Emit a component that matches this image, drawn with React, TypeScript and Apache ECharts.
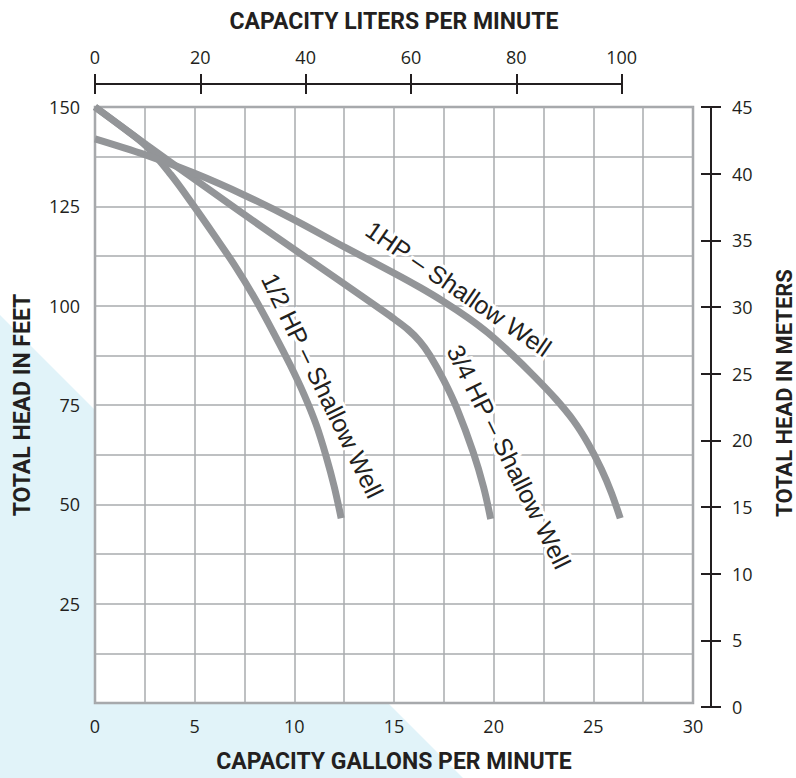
import React, { useEffect, useRef } from "react";
import * as echarts from "echarts";

// ---- axis ranges & tick steps ----
const gpmRange = [0, 30];
const gpmGridStep = 2.5;
const gpmLabelStep = 5;
const feetRange = [0, 150];
const feetGridStep = 12.5;
const feetLabelStep = 25;
const litersRange = [0, 100];
const litersStep = 20;
const metersRange = [0, 45];
const metersStep = 5;
const LPM_PER_GPM = 3.78541;

// ---- titles ----
const titleTop = "CAPACITY LITERS PER MINUTE";
const titleBottom = "CAPACITY GALLONS PER MINUTE";
const titleLeft = "TOTAL HEAD IN FEET";
const titleRight = "TOTAL HEAD IN METERS";

// ---- series names ----
const seriesNames = ["1/2 HP – Shallow Well", "3/4 HP – Shallow Well", "1HP – Shallow Well"];

// ---- curves: [gpm, feet] ----
const halfHp: [number, number][] = [
  [0, 150], [1.3, 145.2], [2.6, 140], [3.8, 133], [4.9, 125.5], [6, 117.6], [7, 110.2],
  [8, 102], [9, 92.8], [9.8, 85], [10.5, 77.5], [11.1, 70], [11.6, 62], [12, 54.5], [12.35, 46.5],
];
const threeQuarterHp: [number, number][] = [
  [0, 150], [2.6, 140.4], [5.5, 130], [9, 117.6], [12.3, 106.2], [14.5, 98.5],
  [15, 96.7], [15.7, 94], [16.3, 91], [16.8, 87.5], [17.5, 81.2], [18.15, 74.2],
  [18.98, 63], [19.5, 54.2], [19.85, 46.3],
];
const oneHp: [number, number][] = [
  [0, 142], [2.5, 138], [5, 133.3], [7.5, 127.8], [10, 121.6], [12.5, 114.8], [15, 108.2],
  [16.3, 104.6], [17.5, 101], [18.7, 97], [19.7, 93.2], [20.9, 87.8], [22, 82.4],
  [23.1, 76.6], [24, 71.1], [24.75, 65.2], [25.4, 58.9], [25.9, 53], [26.35, 46.5],
];
const curves = [halfHp, threeQuarterHp, oneHp];

// ---- curve annotations: anchor in [gpm, feet], angle in degrees (clockwise) ----
const labelGpm = [11.41, 20.77, 18.24];
const labelFeet = [79.9, 62.0, 104.3];
const labelAngle = [64, 63.5, 34.5];

const INK = "#231f20";
const CURVE = "#939598";
const GRIDLINE = "#a9abae";
const TICK_FONT = "'Open Sans', 'Noto Sans', sans-serif";
const TITLE_FONT = "Roboto, 'Noto Sans', sans-serif";
const LABEL_FONT = "'Liberation Sans', Arial, sans-serif";

const GL = 95, GT = 107, GW = 598, GH = 600;

export default function App() {
  const ref = useRef<HTMLDivElement>(null);

  useEffect(() => {
    if (!ref.current) return;
    const chart = echarts.init(ref.current, null, { renderer: "svg" });

    const tickLabel = { color: INK, fontFamily: TICK_FONT, fontSize: 18 };
    const blackLine = { color: INK, width: 2 };

    const option: any = {
      animation: false,
      backgroundColor: "#fff",
      grid: [
        { left: GL, top: GT, width: GW, height: GH, show: true, backgroundColor: "#fff", borderColor: "#a2a4a7", borderWidth: 2.5 },
        { left: GL, top: 84, width: (GW * litersRange[1]) / (gpmRange[1] * LPM_PER_GPM), height: 0 },
        { left: 711, top: GT, width: 0, height: GH },
      ],
      xAxis: [
        {
          gridIndex: 0, type: "value", position: "bottom",
          min: gpmRange[0], max: gpmRange[1], interval: gpmGridStep,
          axisLine: { show: false }, axisTick: { show: false },
          splitLine: { show: true, lineStyle: { color: GRIDLINE, width: 1.5 } },
          axisLabel: { ...tickLabel, margin: 14, formatter: (v: number) => (v % gpmLabelStep === 0 ? String(v) : "") },
          name: titleBottom, nameLocation: "middle", nameGap: 47,
          nameTextStyle: { fontFamily: TITLE_FONT, fontWeight: "bold", fontSize: 23, color: INK },
        },
        {
          gridIndex: 1, type: "value", position: "top",
          min: litersRange[0], max: litersRange[1], interval: litersStep,
          axisLine: { show: true, lineStyle: blackLine },
          axisTick: { show: true, length: 10, lineStyle: blackLine },
          splitLine: { show: false },
          axisLabel: { ...tickLabel, margin: 18 },
        },
        {
          gridIndex: 1, type: "value", position: "bottom",
          min: litersRange[0], max: litersRange[1], interval: litersStep,
          axisLine: { show: false },
          axisTick: { show: true, length: 10, lineStyle: blackLine },
          splitLine: { show: false },
          axisLabel: { show: false },
        },
        { gridIndex: 2, type: "value", show: false, min: 0, max: 1 },
      ],
      yAxis: [
        {
          gridIndex: 0, type: "value", position: "left",
          min: feetRange[0], max: feetRange[1], interval: feetGridStep,
          axisLine: { show: false }, axisTick: { show: false },
          splitLine: { show: true, lineStyle: { color: GRIDLINE, width: 1.5 } },
          axisLabel: { ...tickLabel, margin: 15, formatter: (v: number) => (v % feetLabelStep === 0 && v !== 0 ? String(v) : "") },
          name: titleLeft, nameLocation: "middle", nameGap: 61, nameRotate: 90,
          nameTextStyle: { fontFamily: TITLE_FONT, fontWeight: "bold", fontSize: 23, color: INK },
        },
        { gridIndex: 1, type: "value", show: false, min: 0, max: 1 },
        {
          gridIndex: 2, type: "value", position: "right",
          min: metersRange[0], max: metersRange[1], interval: metersStep,
          axisLine: { show: true, lineStyle: blackLine },
          axisTick: { show: true, length: 10, lineStyle: blackLine },
          splitLine: { show: false },
          axisLabel: { ...tickLabel, margin: 21 },
        },
        {
          gridIndex: 2, type: "value", position: "left",
          min: metersRange[0], max: metersRange[1], interval: metersStep,
          axisLine: { show: false },
          axisTick: { show: true, length: 10, lineStyle: blackLine },
          splitLine: { show: false },
          axisLabel: { show: false },
        },
      ],
      series: curves.map((data, i) => ({
        type: "line",
        name: seriesNames[i],
        xAxisIndex: 0,
        yAxisIndex: 0,
        data,
        smooth: 0.35,
        symbol: "none",
        showSymbol: false,
        clip: false,
        lineStyle: { color: CURVE, width: 7, cap: "butt" },
        z: 3,
      })),
    };

    chart.setOption(option);

    const labels = seriesNames.map((name, i) => {
      const p = chart.convertToPixel({ seriesIndex: i }, [labelGpm[i], labelFeet[i]]) as number[];
      return {
        type: "text",
        id: "lbl" + i,
        x: p[0],
        y: p[1],
        rotation: (-labelAngle[i] * Math.PI) / 180,
        z: 10,
        style: {
          text: name,
          fill: INK,
          font: `25px ${LABEL_FONT}`,
          align: "center",
          verticalAlign: "middle",
          textAlign: "center",
          textVerticalAlign: "middle",
          stroke: "#fff",
          lineWidth: 6,
          strokeFirst: true,
        },
      };
    });

    chart.setOption({
      graphic: [
        {
          type: "polygon",
          id: "bg",
          z: -1,
          silent: true,
          shape: { points: [[0, 315], [463, 778], [0, 778]] },
          style: { fill: "#e1f3f9" },
        },
        {
          type: "text",
          id: "ttop",
          x: GL + GW / 2,
          y: 21,
          z: 5,
          style: {
            text: titleTop, fill: INK, font: `bold 23px ${TITLE_FONT}`,
            align: "center", verticalAlign: "middle", textAlign: "center", textVerticalAlign: "middle",
          },
        },
        {
          type: "text",
          id: "tright",
          x: 784,
          y: 393,
          rotation: Math.PI / 2,
          z: 5,
          style: {
            text: titleRight, fill: INK, font: `bold 22px ${TITLE_FONT}`,
            align: "center", verticalAlign: "middle", textAlign: "center", textVerticalAlign: "middle",
          },
        },
        ...labels,
      ],
    });

    return () => chart.dispose();
  }, []);

  return <div ref={ref} style={{ position: "fixed", left: 0, top: 0, width: 796, height: 778 }} />;
}
